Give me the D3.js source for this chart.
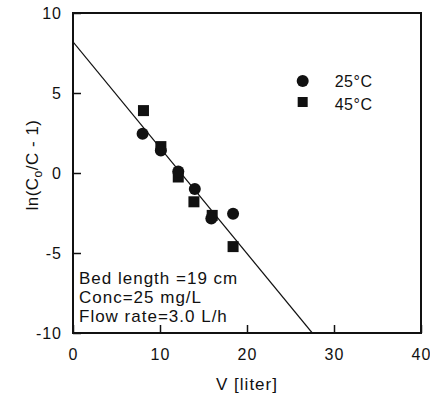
<!DOCTYPE html>
<html>
<head>
<meta charset="utf-8">
<script src="https://cdn.jsdelivr.net/npm/d3@7"></script>
<style>
  body { margin: 0; background: #fff; }
  text { font-family: "Liberation Sans", Arial, sans-serif; fill: #111; }
</style>
</head>
<body>
<div id="chart"></div>
<script>
// data
var v25 = [8.0, 10.1, 12.1, 14.0, 15.9, 18.4];
var y25 = [2.45, 1.4, 0.1, -1.0, -2.85, -2.55];
var v45 = [8.1, 10.1, 12.1, 13.9, 16.0, 18.4];
var y45 = [3.9, 1.65, -0.25, -1.8, -2.65, -4.6];
var fitX = [0, 27.5];
var fitY = [8.2, -10];
var xTicks = [0, 10, 20, 30, 40];
var yTicks = [-10, -5, 0, 5, 10];
var notes = ["Bed length =19 cm", "Conc=25 mg/L", "Flow rate=3.0 L/h"];

var width = 430, height = 395;
var margin = {top: 13, right: 9, bottom: 62, left: 73};
var chartWidth = width - margin.left - margin.right;
var chartHeight = height - margin.top - margin.bottom;

var svg = d3.select("#chart").append("svg")
	.attr("width", width)
	.attr("height", height);

var g = svg.append("g")
	.attr("transform", `translate(${margin.left}, ${margin.top})`);

var x = d3.scaleLinear().domain([0, 40]).range([0, chartWidth]);
var y = d3.scaleLinear().domain([-10, 10]).range([chartHeight, 0]);

// axes with inward ticks, plain hyphen for negatives
var xAxis = d3.axisBottom(x).tickValues(xTicks).tickSize(-8).tickPadding(16)
	.tickFormat(d => String(d));
var yAxis = d3.axisLeft(y).tickValues(yTicks).tickSize(-8).tickPadding(11)
	.tickFormat(d => String(d));

var xAxisG = g.append("g")
	.attr("transform", `translate(0, ${chartHeight})`)
	.call(xAxis);
var yAxisG = g.append("g").call(yAxis);

[xAxisG, yAxisG].forEach(a => {
	a.select(".domain").remove();
	a.selectAll(".tick line").attr("stroke", "#111").attr("stroke-width", 1.5);
	a.selectAll(".tick text")
		.style("font-family", "'Liberation Sans', Arial, sans-serif")
		.style("font-size", "16px")
		.style("letter-spacing", "1px")
		.attr("fill", "#111");
});

// frame
g.append("rect")
	.attr("width", chartWidth)
	.attr("height", chartHeight)
	.attr("fill", "none")
	.attr("stroke", "#111")
	.attr("stroke-width", 2);

// fitted line
g.append("clipPath").attr("id", "plotClip")
	.append("rect").attr("width", chartWidth).attr("height", chartHeight);

g.append("path")
	.datum(fitX.map((d, i) => [d, fitY[i]]))
	.attr("clip-path", "url(#plotClip)")
	.attr("fill", "none")
	.attr("stroke", "#111")
	.attr("stroke-width", 1.2)
	.attr("d", d3.line().x(d => x(d[0])).y(d => y(d[1])));

// points
g.selectAll(".sq")
	.data(v45.map((d, i) => [d, y45[i]]))
	.enter().append("rect")
	.attr("class", "sq")
	.attr("x", d => x(d[0]) - 5.5)
	.attr("y", d => y(d[1]) - 5.5)
	.attr("width", 11)
	.attr("height", 11)
	.attr("fill", "#111");

g.selectAll(".pt")
	.data(v25.map((d, i) => [d, y25[i]]))
	.enter().append("circle")
	.attr("class", "pt")
	.attr("cx", d => x(d[0]))
	.attr("cy", d => y(d[1]))
	.attr("r", 6)
	.attr("fill", "#111");

// legend
var leg = g.append("g").attr("transform", `translate(${x(26.4)}, ${y(5.75)})`);
leg.append("circle").attr("cx", 0).attr("cy", 0).attr("r", 6).attr("fill", "#111");
leg.append("text").attr("x", 32).attr("y", 6)
	.style("font-size", "16px").style("letter-spacing", "0.5px").text("25°C");
leg.append("rect").attr("x", -5).attr("y", 16).attr("width", 10).attr("height", 10).attr("fill", "#111");
leg.append("text").attr("x", 32).attr("y", 29)
	.style("font-size", "16px").style("letter-spacing", "0.5px").text("45°C");

// notes
g.selectAll(".note")
	.data(notes)
	.enter().append("text")
	.attr("class", "note")
	.attr("x", 6)
	.attr("y", (d, i) => chartHeight - 49.5 + i * 19)
	.style("font-size", "17px")
	.style("letter-spacing", "1px")
	.text(d => d);

// axis titles
svg.append("text")
	.attr("x", margin.left + chartWidth / 2)
	.attr("y", 390)
	.attr("text-anchor", "middle")
	.style("font-size", "17px")
	.style("letter-spacing", "1px")
	.text("V [liter]");

var yt = svg.append("text")
	.attr("transform", `translate(38, 165) rotate(-90)`)
	.attr("text-anchor", "middle")
	.style("font-size", "17px")
	.style("letter-spacing", "0.5px");
yt.append("tspan").text("ln(C");
yt.append("tspan").attr("dy", 4).style("font-size", "12px").text("o");
yt.append("tspan").attr("dy", -4).text("/C - 1)");
</script>
</body>
</html>
